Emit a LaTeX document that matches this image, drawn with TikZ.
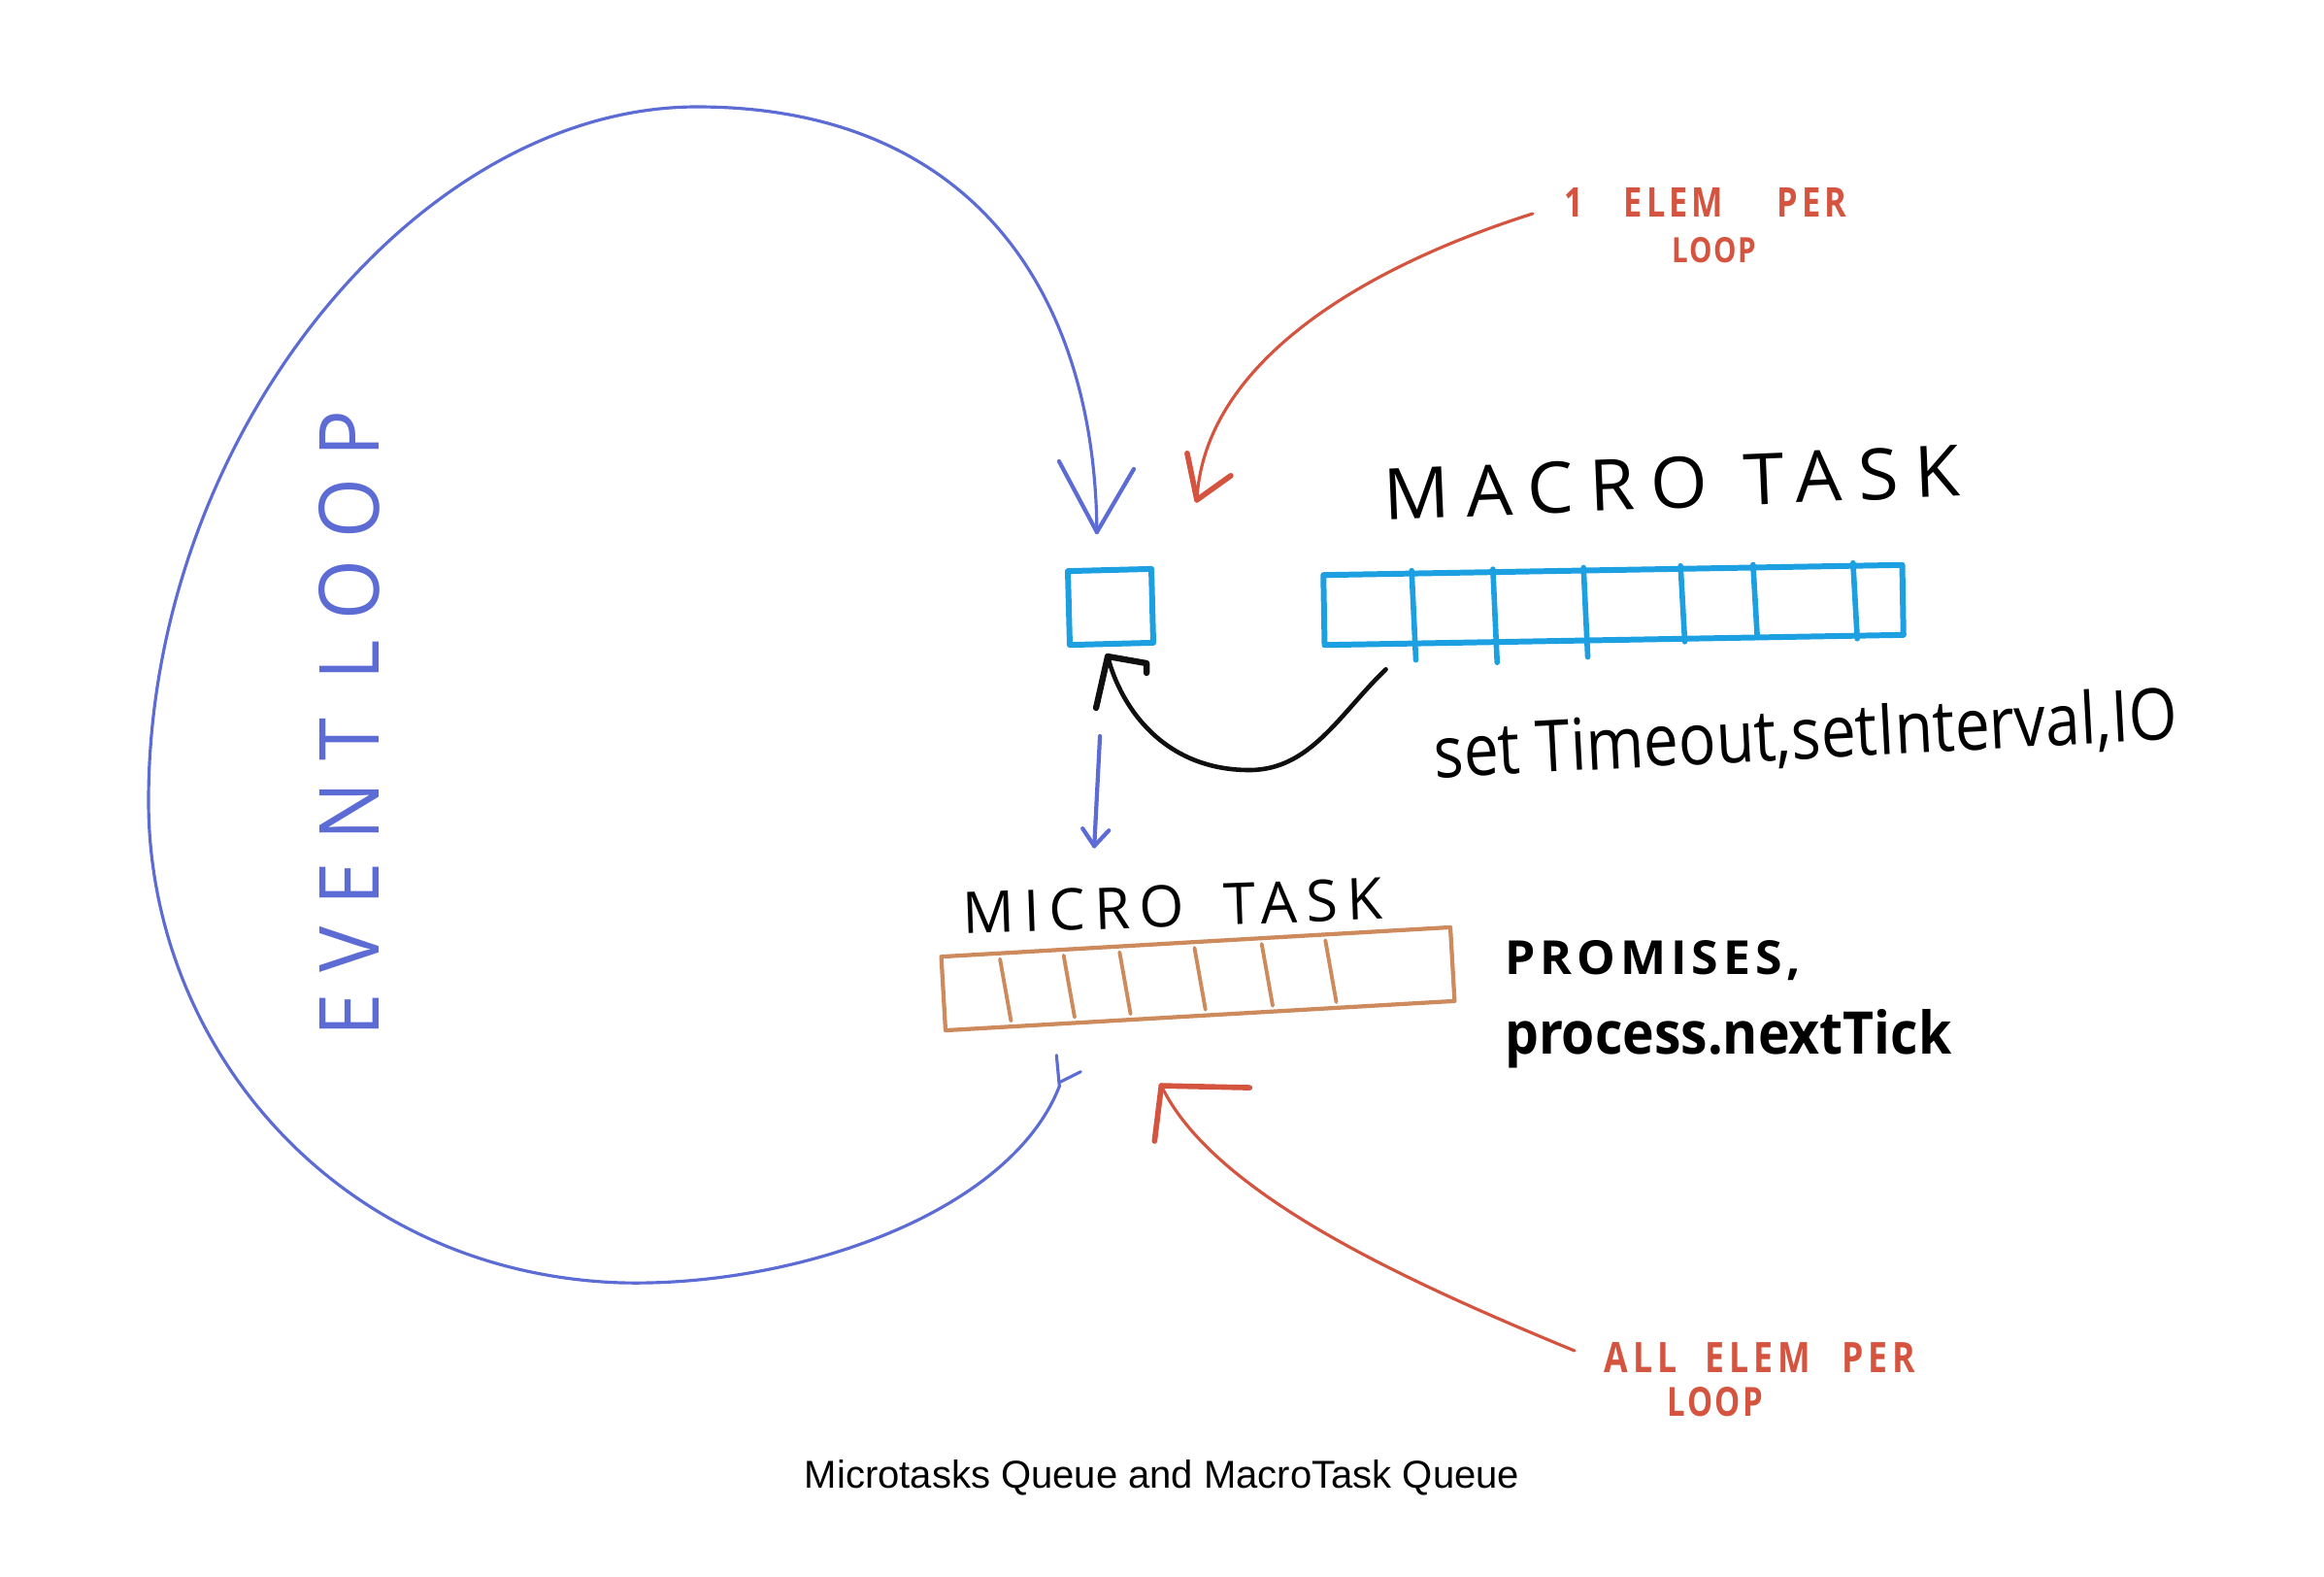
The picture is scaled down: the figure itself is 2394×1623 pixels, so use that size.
\documentclass[tikz,border=0pt]{standalone}
\usepackage{fontspec}
\setmainfont{Open Sans}
\newfontfamily\capfont{Liberation Sans}
\usetikzlibrary{arrows.meta,calc}
\definecolor{loopblue}{RGB}{92,108,212}
\definecolor{boxblue}{RGB}{28,160,225}
\definecolor{micbrown}{RGB}{205,138,92}
\definecolor{redpen}{RGB}{212,84,64}
\definecolor{inkblack}{RGB}{15,15,15}
\tikzset{
  hand/.style={line cap=round,line join=round},
  loopline/.style={hand,draw=loopblue,line width=0.9pt},
  qbox/.style={draw=boxblue,line width=1.7pt,inner sep=0pt,line join=round},
  qline/.style={hand,draw=boxblue,line width=1.6pt},
  mbox/.style={draw=micbrown,line width=1.2pt,inner sep=0pt,line join=round},
  mline/.style={hand,draw=micbrown,line width=1.1pt},
  redline/.style={hand,draw=redpen,line width=0.9pt},
  redhead/.style={hand,draw=redpen,line width=1.6pt},
  blkline/.style={hand,draw=inkblack,line width=1.3pt},
  blkhead/.style={hand,draw=inkblack,line width=1.8pt},
  lbl/.style={inner sep=0pt,outer sep=0pt},
}
\begin{document}
\begin{tikzpicture}[x=0.01cm,y=-0.01cm]
\useasboundingbox[fill=white] (0,0) rectangle (2394,1623);

% ---------- queues ----------
\node[qbox,minimum width=0.86cm,minimum height=0.76cm,rotate=1.5] (smallbox) at (1144,625) {};
\node[qbox,minimum width=5.96cm,minimum height=0.72cm,rotate=1] (macroq) at (1662,623) {};
\foreach \f/\e in {0.156/14,0.295/18,0.45/14,0.616/0,0.74/-3,0.911/0}{
  \draw[qline] ($(macroq.north west)!\f!(macroq.north east)$) -- ($(macroq.south west)!\f!(macroq.south east)+(3,\e)$);
}
\node[mbox,minimum width=5.25cm,minimum height=0.76cm,rotate=3.3] (microq) at (1234,1008) {};
\foreach \f in {0.116,0.240,0.349,0.495,0.626,0.750}{
  \coordinate (mt) at ($(microq.north west)!\f!(microq.north east)$);
  \coordinate (mb) at ($(microq.south west)!\f+0.018!(microq.south east)$);
  \draw[mline] ($(mt)!0.1!(mb)$) -- ($(mt)!0.9!(mb)$);
}

% ---------- labels ----------
\node[lbl,rotate=2.4] (macrolbl) at (1722,497)
  {\resizebox{5.93cm}{0.53cm}{\addfontfeature{LetterSpace=22}MACRO\hspace{0.5em}TASK}};
\node[lbl,rotate=3] (macronote) at (1860,758)
  {\resizebox{7.66cm}{0.56cm}{set Timeout,setInterval,IO}};
\node[lbl,rotate=2] (microlbl) at (1208,933)
  {\resizebox{4.32cm}{0.43cm}{\addfontfeature{LetterSpace=16}MICRO\hspace{0.7em}TASK}};
\node[lbl,anchor=base west] (promises) at (1550,1003)
  {\resizebox{3.05cm}{0.35cm}{\bfseries\addfontfeature{LetterSpace=10}PROMISES,}};
\node[lbl,anchor=base west] (nexttick) at (1550,1085)
  {\resizebox{4.60cm}{0.46cm}{\bfseries process.nextTick}};
\node[lbl,text=redpen] (elem1) at (1757,208)
  {\resizebox{2.90cm}{0.30cm}{\bfseries\addfontfeature{LetterSpace=12}1\hspace{1.2em}ELEM\hspace{1.6em}PER}};
\node[lbl,text=redpen] (loop1) at (1766,258)
  {\resizebox{0.86cm}{0.26cm}{\bfseries\addfontfeature{LetterSpace=5}LOOP}};
\node[lbl,text=redpen] (allelem) at (1813,1398)
  {\resizebox{3.20cm}{0.31cm}{\bfseries\addfontfeature{LetterSpace=14}ALL\hspace{0.8em}ELEM\hspace{0.9em}PER}};
\node[lbl,text=redpen] (loop2) at (1767,1444)
  {\resizebox{0.99cm}{0.30cm}{\bfseries\addfontfeature{LetterSpace=8}LOOP}};
\node[lbl,text=loopblue,rotate=90] (evloop) at (360,745)
  {\resizebox{6.45cm}{0.62cm}{\addfontfeature{LetterSpace=28}EVENT\hspace{0.5em}LOOP}};
\node[lbl] (caption) at (1197,1522)
  {\resizebox{7.36cm}{!}{\capfont Microtasks Queue and MacroTask Queue}};

% ---------- event loop ----------
\coordinate (loopstart) at ($(microq.south west)!0.22!(microq.south east)+(0,30)$);
\coordinate (looptip) at ($(smallbox.north)+(-13,-36)$);
\draw[loopline] (loopstart) -- ++(3,32) coordinate (loopbend)
  .. controls (1040,1250) and (820,1325) .. (641,1321)
  .. controls (350,1312) and (153,1080) .. (153,825)
  .. controls (153,450) and (430,110) .. (718,110)
  .. controls (1000,110) and (1128,300) .. (looptip);
\draw[loopline] ($(loopbend)+(0,-4)$) -- ++(22,-11);
\draw[loopline,line width=1.2pt] (looptip) -- ++(-39,-73);
\draw[loopline,line width=1.2pt] (looptip) -- ++(38,-65);

% ---------- small box -> micro task ----------
\coordinate (dstart) at ($(smallbox.south)+(-12,92)$);
\coordinate (dtip) at ($(microlbl.north)+(-80,-40)$);
\draw[loopline,line width=1.2pt] (dstart) -- (dtip);
\draw[loopline,line width=1.2pt] (dtip) -- ++(-12,-18);
\draw[loopline,line width=1.2pt] (dtip) -- ++(15,-16);

% ---------- macro queue -> small box ----------
\coordinate (bstart) at ($(macroq.south west)+(66,22)$);
\coordinate (btip) at ($(smallbox.south)+(-4,10)$);
\draw[blkline] (bstart) .. controls (1380,735) and (1350,793) .. (1287,793)
  .. controls (1200,793) and (1155,730) .. (btip);
\draw[blkhead] (btip) -- ++(-12,53);
\draw[blkhead] (btip) -- ++(40,7) -- ++(0,10);

% ---------- red arrows ----------
\coordinate (r1start) at ($(elem1.west)+(-33,12)$);
\coordinate (r1tip) at ($(smallbox.north east)+(44,-68)$);
\draw[redline] (r1start) .. controls (1390,280) and (1240,380) .. (r1tip);
\draw[redhead] (r1tip) -- ++(-10,-48);
\draw[redhead] (r1tip) -- ++(35,-25);

\coordinate (r2start) at ($(allelem.west)+(-31,-7)$);
\coordinate (r2tip) at ($(microq.south)+(-40,70)$);
\draw[redline] (r2start) .. controls (1450,1320) and (1250,1230) .. (r2tip);
\draw[redhead] (r2tip) -- ++(91,2);
\draw[redhead] (r2tip) -- ++(-7,57);
\end{tikzpicture}
\end{document}
